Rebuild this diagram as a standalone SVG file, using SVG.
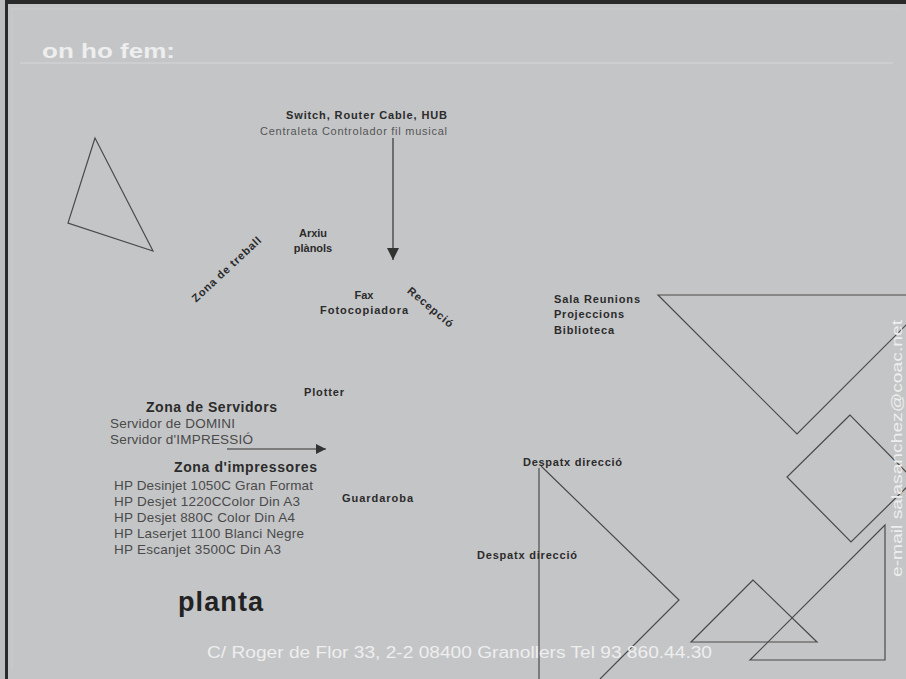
<svg xmlns="http://www.w3.org/2000/svg" width="906" height="679" viewBox="0 0 906 679">
<style>
.lbl{font-family:"Liberation Sans",Arial,sans-serif;font-weight:bold;font-size:11px;fill:#2b2b2b}
.reg{font-family:"Liberation Sans",Arial,sans-serif;font-size:13.5px;fill:#4a4a4a}
.hdr{font-family:"Liberation Sans",Arial,sans-serif;font-weight:bold;font-size:14px;fill:#2b2b2b}
.wt{font-family:"Liberation Sans",Arial,sans-serif;fill:#eeeeee}
.shape{fill:none;stroke:#4a4a4a;stroke-width:1.2}
.conn{stroke:#333;stroke-width:1.2;fill:none}
</style>
<defs>
<marker id="arr" viewBox="0 0 10 10" refX="10" refY="5" markerWidth="10" markerHeight="10" markerUnits="userSpaceOnUse" orient="auto">
<path d="M0,0 L10,5 L0,10 Z" fill="#333"/>
</marker>
<marker id="arrV" viewBox="0 0 12 12" refX="12" refY="6" markerWidth="12" markerHeight="12" markerUnits="userSpaceOnUse" orient="auto">
<path d="M0,0 L12,6 L0,12 Z" fill="#333"/>
</marker>
</defs>
<rect x="0" y="0" width="906" height="679" fill="#c4c5c7"/>
<rect x="0" y="0" width="6" height="679" fill="#bdbec0"/>
<rect x="5" y="0" width="3" height="679" fill="#2a2a2a"/>
<rect x="5" y="0" width="901" height="4" fill="#2a2a2a"/>
<path d="M12,669 V9 H898" fill="none" stroke="#cacbcd" stroke-width="1"/>
<line x1="20" y1="63" x2="893" y2="63" stroke="#d0d1d3" stroke-width="1.5"/>
<text x="42" y="58" class="wt" font-weight="bold" font-size="20" fill="#d4d5d7" textLength="133" lengthAdjust="spacingAndGlyphs">on ho fem:</text>

<g id="shapes">
<polygon class="shape" points="95,138 68,223 153,251"/>
<polygon class="shape" points="658,295 936,295 797,434"/>
<polygon class="shape" points="850,415 787,477 851,542 914,480"/>
<polygon class="shape" points="750,660 885,525 885,660"/>
<polygon class="shape" points="753,580 691,642 817,642"/>
<polyline class="shape" points="539,468 539,679"/>
<polyline class="shape" points="541,466 679,600 600,679"/>
</g>

<g id="connectors">
<line class="conn" x1="393" y1="138" x2="393" y2="260" marker-end="url(#arrV)"/>
<line class="conn" x1="227" y1="449" x2="326" y2="449" marker-end="url(#arr)"/>
</g>

<g id="switch">
<text class="lbl" x="447" y="119" text-anchor="end" textLength="161">Switch, Router Cable, HUB</text>
<text x="447" y="135" text-anchor="end" font-family="Liberation Sans, Arial, sans-serif" font-size="11px" fill="#555" textLength="187">Centraleta Controlador fil musical</text>
</g>
<g id="arxiu">
<text class="lbl" x="313" y="237" text-anchor="middle">Arxiu</text>
<text class="lbl" x="313" y="252" text-anchor="middle">plànols</text>
</g>
<g id="zona-treball">
<text class="lbl" transform="translate(229,272) rotate(-43)" text-anchor="middle" x="0" y="0" textLength="90">Zona de treball</text>
</g>
<g id="fax">
<text class="lbl" x="364" y="299" text-anchor="middle">Fax</text>
<text class="lbl" x="364" y="314" text-anchor="middle" textLength="88">Fotocopiadora</text>
</g>
<g id="recepcio">
<text class="lbl" transform="translate(428,310) rotate(40)" text-anchor="middle" x="0" y="0" textLength="56">Recepció</text>
</g>
<g id="sala">
<text class="lbl" x="554" y="303" textLength="86">Sala Reunions</text>
<text class="lbl" x="554" y="318" textLength="70">Projeccions</text>
<text class="lbl" x="554" y="334" textLength="60">Biblioteca</text>
</g>
<g id="plotter">
<text class="lbl" x="304" y="396" textLength="40">Plotter</text>
</g>
<g id="servidors">
<text class="hdr" x="146" y="412" textLength="131">Zona de Servidors</text>
<text class="reg" x="110" y="428" textLength="125">Servidor de DOMINI</text>
<text class="reg" x="110" y="444" textLength="143">Servidor d'IMPRESSIÓ</text>
</g>
<g id="impressores">
<text class="hdr" x="174" y="472" textLength="143">Zona d'impressores</text>
<text class="reg" x="114" y="490" textLength="199">HP Desinjet 1050C Gran Format</text>
<text class="reg" x="114" y="506" textLength="186">HP Desjet 1220CColor Din A3</text>
<text class="reg" x="114" y="522" textLength="181">HP Desjet 880C Color Din A4</text>
<text class="reg" x="114" y="538" textLength="190">HP Laserjet 1100 Blanci Negre</text>
<text class="reg" x="114" y="554" textLength="167">HP Escanjet 3500C Din A3</text>
</g>
<g id="guardaroba">
<text class="lbl" x="342" y="502" textLength="71">Guardaroba</text>
</g>
<g id="despatx1">
<text class="lbl" x="523" y="466" textLength="99">Despatx direcció</text>
</g>
<g id="despatx2">
<text class="lbl" x="477" y="559" textLength="100">Despatx direcció</text>
</g>
<g id="planta">
<text x="178" y="611" font-family="Liberation Sans, Arial, sans-serif" font-weight="bold" font-size="27" fill="#222" textLength="85">planta</text>
</g>
<text x="207" y="658" class="wt" font-size="16" textLength="505" lengthAdjust="spacingAndGlyphs">C/ Roger de Flor 33, 2-2 08400 Granollers Tel 93 860.44.30</text>
<text transform="translate(902,577) rotate(-90)" x="0" y="0" class="wt" font-size="15" textLength="257" lengthAdjust="spacingAndGlyphs">e-mail  salasanchez@coac.net</text>
</svg>
